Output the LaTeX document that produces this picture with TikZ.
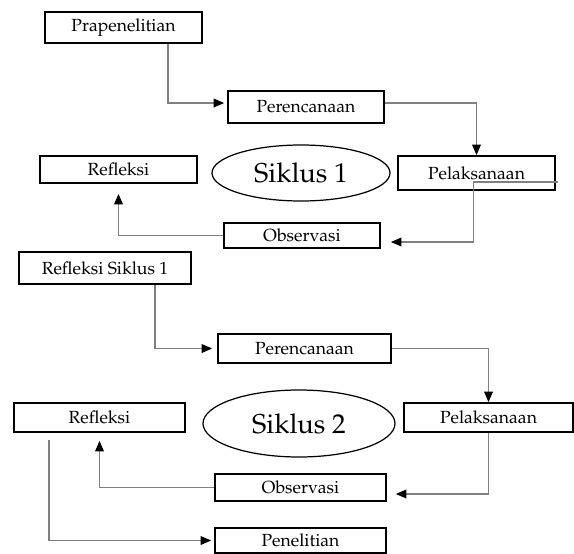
\documentclass[tikz,border=0pt]{standalone}
\usepackage[T1]{fontenc}
\usepackage{mathpazo}
\usetikzlibrary{arrows.meta, shapes.geometric}

\begin{document}
\begin{tikzpicture}[>={Triangle[length=6pt, width=5pt, color=black]}, font=\normalsize,
	kotak/.style={draw, line width=1pt, inner sep=0pt},
	panah/.style={->, gray, line width=0.6pt},
	siklus/.style={draw, ellipse, line width=0.7pt, inner sep=0pt, font=\fontsize{15.5}{18}\selectfont}]

\useasboundingbox (0,0) rectangle (11.48,-11.08);

%========================
% Siklus 1
%========================
\node[kotak, minimum width=3.14cm, minimum height=0.62cm] (prap) at (2.47,-0.55) {Prapenelitian};
\node[kotak, minimum width=3.12cm, minimum height=0.64cm] (per1) at (6.12,-2.14) {Perencanaan};
\node[kotak, minimum width=3.14cm, minimum height=0.68cm] (pel1) at (9.53,-3.46) {Pelaksanaan};
\node[kotak, minimum width=3.12cm, minimum height=0.50cm] (obs1) at (6.04,-4.71) {Observasi};
\node[kotak, minimum width=3.14cm, minimum height=0.54cm] (ref1) at (2.37,-3.39) {Refleksi};
\node[siklus, minimum width=3.56cm, minimum height=1.12cm] (sik1) at (6.02,-3.46) {Siklus 1};

% arrows
\draw[panah, shorten >=0.06cm] ([xshift=0.89cm]prap.south) |- ([yshift=0.08cm]per1.west);
\draw[panah] ([yshift=0.08cm]per1.east) -| (pel1.north);
\draw[panah, shorten >=0.2cm] ([shift={(0.04,-0.18)}]pel1.east) -- ++(-1.68,0) |- ([yshift=-0.13cm]obs1.east);
\draw[panah, shorten >=0.2cm] (obs1.west) -| (ref1.south);

%========================
% Siklus 2
%========================
\node[kotak, minimum width=3.44cm, minimum height=0.64cm] (rs1) at (2.10,-5.36) {Refleksi Siklus 1};
\node[kotak, minimum width=3.46cm, minimum height=0.58cm] (per2) at (6.09,-6.97) {Perencanaan};
\node[kotak, minimum width=3.38cm, minimum height=0.58cm] (pel2) at (9.77,-8.35) {Pelaksanaan};
\node[kotak, minimum width=3.42cm, minimum height=0.54cm] (obs2) at (6.01,-9.75) {Observasi};
\node[kotak, minimum width=3.42cm, minimum height=0.58cm] (ref2) at (1.99,-8.35) {Refleksi};
\node[kotak, minimum width=3.42cm, minimum height=0.50cm] (pen) at (6.01,-10.81) {Penelitian};
\node[siklus, minimum width=3.84cm, minimum height=1.34cm] (sik2) at (5.98,-8.47) {Siklus 2};

% arrows
\draw[panah, shorten >=0.1cm] ([xshift=1.0cm]rs1.south) |- (per2.west);
\draw[panah] (per2.east) -| (pel2.north);
\draw[panah, shorten >=0.18cm] (pel2.south) |- ([yshift=-0.13cm]obs2.east);
\draw[panah, shorten >=0.16cm] (obs2.west) -| (ref2.south);
\draw[panah, shorten >=0.06cm] ([shift={(-1.01,-0.14)}]ref2.south) |- (pen.west);

\end{tikzpicture}
\end{document}
